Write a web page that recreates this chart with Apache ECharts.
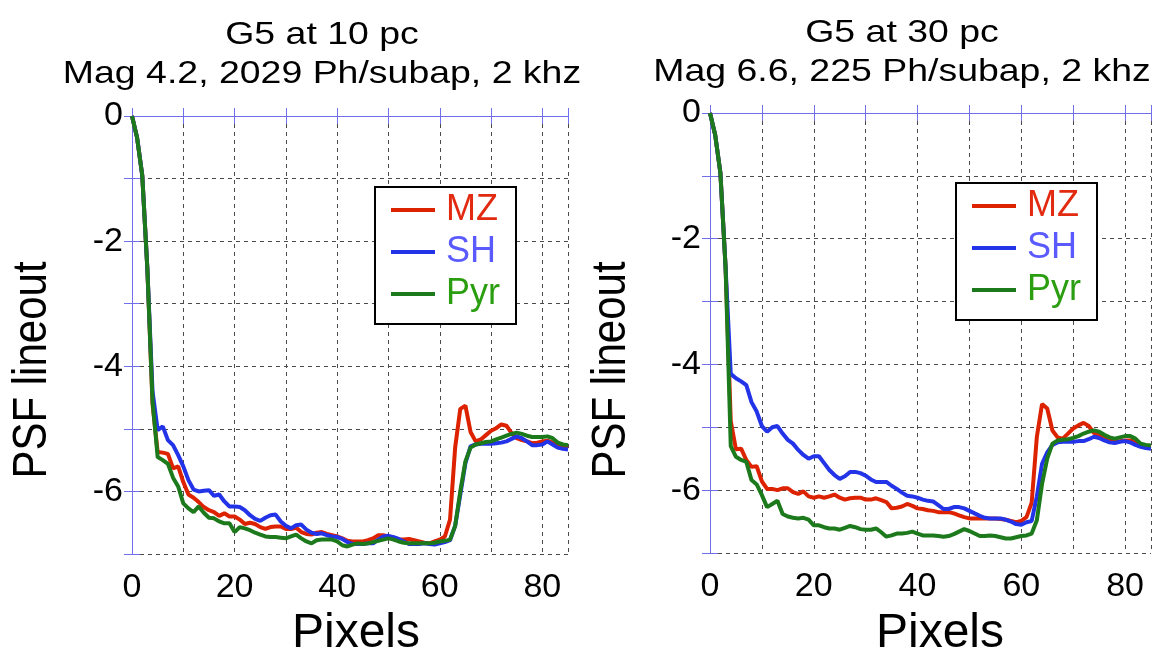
<!DOCTYPE html>
<html>
<head>
<meta charset="utf-8">
<script src="https://cdn.jsdelivr.net/npm/echarts@6/dist/echarts.min.js"></script>
<style>
  html, body { margin: 0; padding: 0; background: #fff; }
  #chart { width: 1161px; height: 656px; }
</style>
</head>
<body>
<div id="chart"></div>
<script>
// pixel index along the lineout
var pixels = [0,1,2,3,4,5,6,7,8,9,10,11,12,13,14,15,16,17,18,19,20,21,22,23,24,25,26,27,28,29,
  30,31,32,33,34,35,36,37,38,39,40,41,42,43,44,45,46,47,48,49,50,51,52,53,54,55,56,57,58,59,
  60,61,62,63,64,65,66,67,68,69,70,71,72,73,74,75,76,77,78,79,80,81,82,83,84,85];

// left panel: G5 at 10 pc
var mz10 = [0,-0.35,-0.95,-2.45,-4.6,-5.37,-5.38,-5.4,-5.63,-5.6,-5.85,-6.05,-6.1,-6.17,-6.25,-6.3,-6.33,-6.39,-6.35,-6.4,
  -6.4,-6.45,-6.52,-6.5,-6.52,-6.57,-6.6,-6.57,-6.56,-6.56,-6.6,-6.6,-6.58,-6.65,-6.68,-6.69,-6.66,-6.65,-6.68,-6.7,
  -6.72,-6.75,-6.79,-6.8,-6.8,-6.8,-6.78,-6.75,-6.7,-6.7,-6.72,-6.74,-6.77,-6.77,-6.76,-6.78,-6.8,-6.82,-6.83,-6.8,
  -6.77,-6.72,-6.45,-5.3,-4.68,-4.63,-5.05,-5.2,-5.17,-5.1,-5.03,-4.99,-4.93,-4.95,-5.07,-5.15,-5.18,-5.2,-5.23,-5.22,
  -5.2,-5.19,-5.22,-5.27,-5.29,-5.31];
var sh10 = [0,-0.35,-0.95,-2.45,-4.4,-5.02,-4.96,-5.18,-5.26,-5.42,-5.6,-5.82,-5.97,-6.0,-5.99,-5.98,-6.07,-6.05,-6.16,-6.24,
  -6.24,-6.25,-6.3,-6.38,-6.44,-6.47,-6.42,-6.38,-6.37,-6.48,-6.55,-6.59,-6.54,-6.53,-6.61,-6.66,-6.68,-6.67,-6.7,-6.72,
  -6.73,-6.76,-6.81,-6.84,-6.84,-6.84,-6.83,-6.83,-6.77,-6.72,-6.71,-6.73,-6.76,-6.8,-6.84,-6.84,-6.84,-6.83,-6.84,-6.85,
  -6.83,-6.81,-6.78,-6.55,-6.05,-5.55,-5.28,-5.25,-5.24,-5.24,-5.24,-5.23,-5.22,-5.2,-5.16,-5.12,-5.15,-5.2,-5.26,-5.26,
  -5.25,-5.2,-5.25,-5.3,-5.32,-5.33];
var pyr10 = [0,-0.35,-0.95,-2.45,-4.55,-5.45,-5.5,-5.56,-5.78,-5.92,-6.19,-6.27,-6.33,-6.24,-6.34,-6.42,-6.43,-6.48,-6.51,-6.51,
  -6.65,-6.57,-6.59,-6.62,-6.66,-6.69,-6.72,-6.73,-6.73,-6.74,-6.75,-6.72,-6.69,-6.75,-6.8,-6.83,-6.78,-6.77,-6.77,-6.77,
  -6.8,-6.86,-6.88,-6.85,-6.83,-6.84,-6.83,-6.81,-6.79,-6.77,-6.75,-6.77,-6.8,-6.82,-6.83,-6.83,-6.83,-6.83,-6.83,-6.82,
  -6.8,-6.79,-6.77,-6.55,-6.0,-5.52,-5.3,-5.25,-5.23,-5.21,-5.2,-5.17,-5.14,-5.11,-5.08,-5.06,-5.08,-5.11,-5.13,-5.13,
  -5.13,-5.12,-5.15,-5.22,-5.25,-5.26];

// right panel: G5 at 30 pc
var mz30 = [0,-0.35,-0.95,-2.45,-4.9,-5.35,-5.34,-5.52,-5.63,-5.62,-5.86,-5.98,-5.98,-6.0,-5.97,-5.97,-6.03,-6.06,-6.02,-6.1,
  -6.12,-6.1,-6.12,-6.1,-6.07,-6.12,-6.15,-6.13,-6.12,-6.12,-6.15,-6.15,-6.13,-6.16,-6.19,-6.29,-6.28,-6.26,-6.22,-6.25,
  -6.29,-6.3,-6.32,-6.33,-6.35,-6.35,-6.35,-6.37,-6.4,-6.43,-6.45,-6.45,-6.45,-6.45,-6.45,-6.45,-6.46,-6.47,-6.49,-6.51,
  -6.49,-6.43,-6.2,-5.15,-4.63,-4.7,-5.05,-5.16,-5.18,-5.1,-5.02,-4.97,-4.93,-4.98,-5.09,-5.12,-5.16,-5.21,-5.23,-5.22,
  -5.21,-5.21,-5.23,-5.27,-5.3,-5.31];
var sh30 = [0,-0.35,-0.95,-2.45,-4.15,-4.22,-4.27,-4.33,-4.6,-4.75,-4.98,-5.07,-5.0,-4.98,-5.1,-5.2,-5.26,-5.36,-5.44,-5.5,
  -5.46,-5.46,-5.57,-5.68,-5.76,-5.82,-5.78,-5.71,-5.71,-5.73,-5.77,-5.83,-5.87,-5.87,-5.87,-5.93,-5.98,-6.04,-6.09,-6.1,
  -6.12,-6.15,-6.17,-6.18,-6.24,-6.3,-6.3,-6.27,-6.27,-6.29,-6.33,-6.37,-6.41,-6.44,-6.45,-6.45,-6.45,-6.47,-6.5,-6.54,
  -6.55,-6.51,-6.49,-6.1,-5.58,-5.4,-5.28,-5.24,-5.23,-5.23,-5.23,-5.22,-5.22,-5.19,-5.15,-5.17,-5.21,-5.24,-5.25,-5.23,
  -5.22,-5.24,-5.28,-5.31,-5.33,-5.34];
var pyr30 = [0,-0.35,-0.95,-2.45,-5.3,-5.47,-5.52,-5.55,-5.84,-5.91,-6.08,-6.27,-6.22,-6.17,-6.38,-6.42,-6.44,-6.45,-6.44,-6.47,
  -6.56,-6.56,-6.59,-6.61,-6.61,-6.63,-6.6,-6.57,-6.59,-6.62,-6.63,-6.63,-6.61,-6.67,-6.74,-6.72,-6.69,-6.69,-6.68,-6.66,
  -6.69,-6.72,-6.72,-6.72,-6.73,-6.74,-6.73,-6.7,-6.66,-6.62,-6.65,-6.69,-6.73,-6.73,-6.72,-6.73,-6.75,-6.77,-6.77,-6.75,
  -6.73,-6.72,-6.69,-6.48,-5.9,-5.5,-5.26,-5.21,-5.2,-5.19,-5.17,-5.14,-5.1,-5.07,-5.05,-5.07,-5.12,-5.16,-5.18,-5.16,
  -5.14,-5.14,-5.18,-5.26,-5.28,-5.29];

var names = ['MZ', 'SH', 'Pyr'];
var lineColors = ['#dd2200', '#2233e8', '#1c7a1c'];
var textColors = ['#e22a10', '#5a5aff', '#2a9e10'];
var titles = [['G5 at 10 pc', 'Mag 4.2, 2029 Ph/subap, 2 khz'], ['G5 at 30 pc', 'Mag 6.6, 225 Ph/subap, 2 khz']];

var frame = '#7070ee';
var font = '"Liberation Sans", Arial, sans-serif';

function pairs(ys) {
    return pixels.map(function (p, i) { return [p, ys[i]]; });
}

var grids = [
    { left: 132, top: 116, width: 436, height: 438 },
    { left: 710, top: 113, width: 441, height: 440 }
];

var xAxes = [], yAxes = [];
grids.forEach(function (g, i) {
    xAxes.push({
        gridIndex: i, type: 'value', min: 0, max: 85, interval: 10,
        axisLine: { lineStyle: { color: frame, width: 1 } },
        axisTick: { inside: true, length: 8, lineStyle: { color: frame } },
        axisLabel: {
            margin: 17, color: '#000', fontSize: 34, fontFamily: font,
            formatter: function (v) { return v % 20 === 0 ? String(v) : ''; }
        },
        splitLine: { show: true, lineStyle: { color: '#4a4a4a', type: [4, 4], width: 1 } }
    });
    xAxes.push({
        gridIndex: i, type: 'value', min: 0, max: 85, interval: 10, position: 'top',
        axisLine: { lineStyle: { color: frame, width: 1 } },
        axisTick: { inside: true, length: 8, lineStyle: { color: frame } },
        axisLabel: { show: false }, splitLine: { show: false }
    });
    yAxes.push({
        gridIndex: i, type: 'value', min: -7, max: 0, interval: 1,
        axisLine: { show: true, lineStyle: { color: frame, width: 1 } },
        axisTick: { show: true, inside: true, length: 8, lineStyle: { color: frame } },
        axisLabel: {
            margin: 9, color: '#000', fontSize: 34, fontFamily: font,
            formatter: function (v) { return v % 2 === 0 ? String(v) : ''; }
        },
        splitLine: { show: true, lineStyle: { color: '#4a4a4a', type: [4, 4], width: 1 } }
    });
    yAxes.push({
        gridIndex: i, type: 'value', min: -7, max: 0, interval: 1, position: 'right',
        axisLine: { show: true, lineStyle: { color: frame, width: 1 } },
        axisTick: { show: true, inside: true, length: 8, lineStyle: { color: frame } },
        axisLabel: { show: false }, splitLine: { show: false }
    });
});

var panelData = [[mz10, sh10, pyr10], [mz30, sh30, pyr30]];
var series = [];
// draw order: SH, MZ, Pyr (green ends up on top)
[1, 0, 2].forEach(function (k) {
    panelData.forEach(function (d, i) {
        series.push({
            name: names[k], type: 'line', xAxisIndex: i * 2, yAxisIndex: i * 2,
            data: pairs(d[k]), showSymbol: false, symbol: 'none', smooth: false,
            lineStyle: { color: lineColors[k], width: 4 },
            itemStyle: { color: lineColors[k] },
            z: 3 + k, animation: false
        });
    });
});

function legendFor(left, top) {
    return {
        left: left, top: top, orient: 'vertical', selectedMode: false,
        borderColor: '#000', borderWidth: 2, backgroundColor: '#fff',
        padding: [5, 16, 12, 16], itemGap: 6, itemWidth: 44, itemHeight: 4, icon: 'rect',
        textStyle: { fontSize: 36, fontFamily: font, lineHeight: 36, padding: [0, 0, 0, 6] },
        data: names.map(function (n, k) {
            return { name: n, textStyle: { color: textColors[k] } };
        })
    };
}

var graphic = [];
var titleX = [322, 902], titleY = [[35, 74], [33, 72]];
titles.forEach(function (t, i) {
    t.forEach(function (line, j) {
        graphic.push({
            type: 'text', x: titleX[i], y: titleY[i][j], scaleX: 1.17,
            style: { text: line, font: '32px ' + font, fill: '#000', align: 'center', verticalAlign: 'middle' }
        });
    });
});
[356, 940].forEach(function (x) {
    graphic.push({
        type: 'text', x: x, y: 634,
        style: { text: 'Pixels', font: '48px ' + font, fill: '#000', align: 'center', verticalAlign: 'middle' }
    });
});
[33, 612].forEach(function (x) {
    graphic.push({
        type: 'text', x: x, y: 370, rotation: Math.PI / 2, scaleY: 1.15,
        style: { text: 'PSF lineout', font: '42px ' + font, fill: '#000', align: 'center', verticalAlign: 'middle' }
    });
});

var chart = echarts.init(document.getElementById('chart'));
chart.setOption({
    animation: false,
    backgroundColor: '#fff',
    grid: grids.map(function (g) { return Object.assign({ show: false }, g); }),
    xAxis: xAxes,
    yAxis: yAxes,
    legend: [legendFor(375, 187), legendFor(956, 183)],
    series: series,
    graphic: graphic
});
</script>
</body>
</html>
